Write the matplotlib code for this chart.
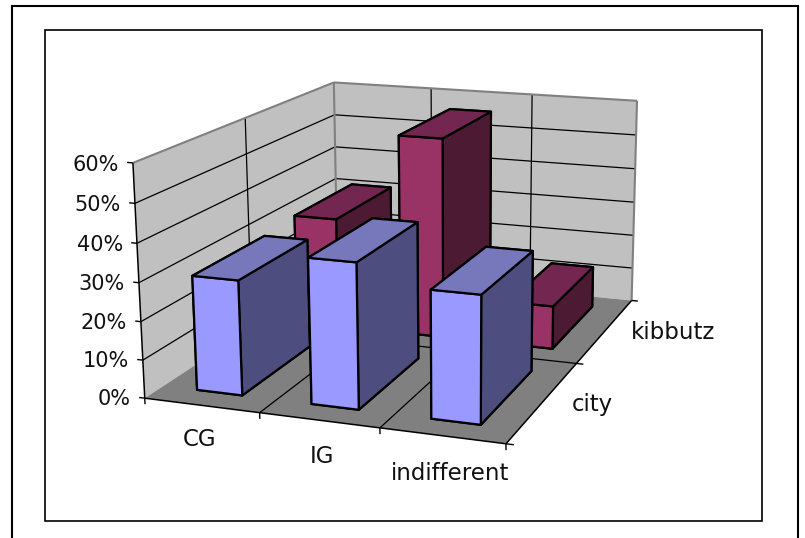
import numpy as np
import matplotlib
matplotlib.use("Agg")
import matplotlib.pyplot as plt
from matplotlib.patches import Rectangle
from mpl_toolkits.mplot3d.art3d import Poly3DCollection, Line3DCollection

W, H = 805, 538

categories = ["CG", "IG", "indifferent"]
series_names = ["city", "kibbutz"]
city = [30, 37.5, 32.5]
kibbutz = [31, 56, 12]
z_ticks = [0, 10, 20, 30, 40, 50, 60]

# colors per face (-z, +z, -y, +y, -x, +x)
city_colors = ["#7777BB", "#7777BB", "#9999FF", "#4D4D80", "#4D4D80", "#4D4D80"]
kibbutz_colors = ["#732650", "#732650", "#993366", "#4D1A33", "#4D1A33", "#4D1A33"]

x_max = len(categories)
y_max = len(series_names)
z_max = z_ticks[-1]

# corners of the chart box: world -> pixel
calib = [
    ((0, 0, 60), (133.3, 162.7)),
    ((0, 0, 0), (144.0, 397.7)),
    ((0, 2, 60), (333.3, 82.7)),
    ((0, 2, 0), (338.0, 272.0)),
    ((3, 2, 60), (637.3, 100.7)),
    ((3, 2, 0), (631.7, 300.0)),
    ((3, 0, 0), (506.0, 443.3)),
    ((3, 1, 0), (575.7, 364.0)),
    ((1, 0, 0), (260.0, 412.7)),
    ((2, 0, 0), (380.3, 428.7)),
]
rows, rhs = [], []
for (x, y, z), (u, v) in calib:
    v = H - v
    rows.append([x, y, z, 1, 0, 0, 0, 0, -u * x, -u * y, -u * z])
    rhs.append(u)
    rows.append([0, 0, 0, 0, x, y, z, 1, -v * x, -v * y, -v * z])
    rhs.append(v)
sol = np.linalg.lstsq(np.array(rows, float), np.array(rhs, float), rcond=None)[0]
P = np.append(sol, 1.0).reshape(3, 4)

fig = plt.figure(figsize=(W / 100, H / 100), dpi=100)
ax = fig.add_axes([-0.25, -0.5, 1.5, 2.0], projection="3d", computed_zorder=False)
ax.set_axis_off()
ax.patch.set_visible(False)


def picture_proj():
    A = ax.transData.inverted().get_matrix()
    PM = A @ P
    depth = [-0.15, 0.5, -0.01, 3.0]
    return np.array([PM[0], PM[1], depth, PM[2]])


ax.get_proj = picture_proj


def face(verts, color, z):
    ax.add_collection3d(Poly3DCollection([verts], facecolor=color, edgecolor="none", zorder=z))


def line(a, b, color="k", lw=0.9, z=2):
    ax.add_collection3d(Line3DCollection([[a, b]], colors=color, linewidths=lw, zorder=z))


def label(x, y, z, s, size, **kw):
    # text goes straight on the figure at the projected place
    u, v, w = P @ [x, y, z, 1]
    fig.text(u / w / W, v / w / H, s, fontsize=size, color="#111111", va="center", **kw)


# walls and floor
face([(0, 0, 0), (0, y_max, 0), (0, y_max, z_max), (0, 0, z_max)], "#C0C0C0", 1)
face([(0, y_max, 0), (x_max, y_max, 0), (x_max, y_max, z_max), (0, y_max, z_max)], "#C0C0C0", 1)
face([(0, 0, 0), (x_max, 0, 0), (x_max, y_max, 0), (0, y_max, 0)], "#808080", 1)

# gridlines
for v in z_ticks[1:-1]:
    line((0, 0, v), (0, y_max, v))
    line((0, y_max, v), (x_max, y_max, v))
for i in range(1, x_max):
    line((i, y_max, 0), (i, y_max, z_max))
    line((i, 0, 0), (i, y_max, 0))
for j in range(1, y_max):
    line((0, j, 0), (0, j, z_max))
    line((0, j, 0), (x_max, j, 0))

# gray frame of the walls
line((0, 0, z_max), (0, y_max, z_max), "#808080", 1.5)
line((0, y_max, z_max), (x_max, y_max, z_max), "#808080", 1.5)
line((x_max, y_max, z_max), (x_max, y_max, 0), "#808080", 1.5)
line((0, y_max, 0), (0, y_max, z_max), "#808080", 1.5)

# axes and ticks
line((0, 0, 0), (0, 0, z_max), "k", 1.1, 3)
line((0, 0, 0), (x_max, 0, 0), "k", 1.1, 3)
line((x_max, 0, 0), (x_max, y_max, 0), "k", 1.1, 3)
for v in z_ticks:
    line((-0.05, 0, v), (0, 0, v), "k", 1.0, 3)
    label(-0.125, 0, v - 0.7, "%d%%" % v, 15, ha="right")
for i in range(x_max + 1):
    line((i, 0, -1.6), (i, 0, 0), "k", 1.0, 3)
for j in range(y_max + 1):
    line((x_max, j, 0), (x_max + 0.06, j, 0), "k", 1.0, 3)

for i, name in enumerate(categories):
    label(0.47 + i * 1.045, 0, -9.2, name, 16.5, ha="center")
for j, name in enumerate(series_names):
    label(x_max + 0.23, j + 0.5, 0, name, 16.5, ha="left")

# bars, back row first
bar_w = 0.4
bar_d = 0.68
order = 5
for j, (vals, cols) in reversed(list(enumerate([(city, city_colors), (kibbutz, kibbutz_colors)]))):
    for i, v in enumerate(vals):
        ax.bar3d(i + 0.5 - bar_w / 2, j + 0.5 - bar_d / 2, 0, bar_w, bar_d, v, color=cols,
                 shade=False, edgecolor="k", linewidth=1.6, zorder=order)
        order += 1

# outer and inner frames
fig.add_artist(Rectangle((11.5, -10), 786, H - 6 + 10, transform=None, fill=False, ec="k", lw=1.5))
fig.add_artist(Rectangle((45, H - 520.5), 717, 490.5, transform=None, fill=False, ec="k", lw=1.2))

fig.savefig("out.png", dpi=100)
